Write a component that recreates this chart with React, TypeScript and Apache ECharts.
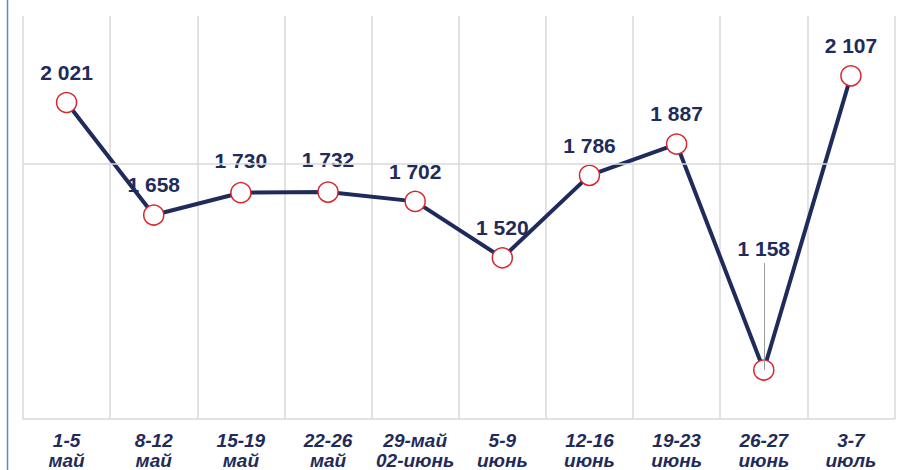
import React, { useEffect, useRef } from "react";
import * as echarts from "echarts";

const categories = [
  "1-5\nмай",
  "8-12\nмай",
  "15-19\nмай",
  "22-26\nмай",
  "29-май\n02-июнь",
  "5-9\nиюнь",
  "12-16\nиюнь",
  "19-23\nиюнь",
  "26-27\nиюнь",
  "3-7\nиюль",
];
const values = [2021, 1658, 1730, 1732, 1702, 1520, 1786, 1887, 1158, 2107];
const yMin = 1000;
const yMax = 2300;
const refLineValue = 1822;
const leaderIndex = 8;
const leaderTopValue = 1503;
const maskedLabelIdx = [2, 3];

const NAVY = "#1F2B5B";
const RED = "#D9262E";
const GRID = "#D9D9D9";

const fmt = (v: number) => {
  const s = String(Math.round(v));
  return s.replace(/\B(?=(\d{3})+(?!\d))/g, " ");
};

export default function App() {
  const ref = useRef<HTMLDivElement>(null);
  useEffect(() => {
    if (!ref.current) return;
    const chart = echarts.init(ref.current, null, { renderer: "svg" });
    chart.setOption({
      animation: false,
      backgroundColor: "#ffffff",
      grid: {
        left: 23,
        right: 4.5,
        top: 16,
        bottom: 51,
        containLabel: false,
        outerBoundsMode: "none",
      },
      xAxis: {
        type: "category",
        data: categories,
        boundaryGap: true,
        axisLine: { show: true, lineStyle: { color: GRID, width: 1.5 } },
        axisTick: { show: false },
        splitLine: { show: true, lineStyle: { color: GRID, width: 1.5 } },
        axisLabel: {
          interval: 0,
          margin: 11,
          color: NAVY,
          fontFamily: "Liberation Sans, Arial, sans-serif",
          fontWeight: "bold",
          fontStyle: "italic",
          fontSize: 19,
          lineHeight: 20,
        },
      },
      yAxis: {
        type: "value",
        min: yMin,
        max: yMax,
        show: false,
        splitLine: { show: false },
      },
      graphic: [
        {
          type: "line",
          shape: { x1: 7.5, y1: 0, x2: 7.5, y2: 470 },
          style: { stroke: "#4A8FD6", lineWidth: 1.5 },
          silent: true,
        },
      ],
      series: [
        {
          type: "line",
          z: 0,
          silent: true,
          data: values,
          symbol: "none",
          lineStyle: { opacity: 0 },
          label: { show: false },
          markLine: {
            silent: true,
            symbol: "none",
            label: { show: false },
            data: [
              [
                { yAxis: refLineValue, x: 23 },
                { yAxis: refLineValue, x: 894.5 },
              ],
              [
                {
                  coord: [leaderIndex, values[leaderIndex]],
                  lineStyle: { color: "#9A9A9A", width: 1, type: "solid" },
                },
                { coord: [leaderIndex, leaderTopValue] },
              ],
            ],
            lineStyle: { color: GRID, width: 1.5, type: "solid" },
          },
        },
        {
          type: "line",
          z: 3,
          data: values.map((v, i) => {
            if (i === leaderIndex) return { value: v, label: { offset: [0, -91] } };
            if (maskedLabelIdx.includes(i))
              return {
                value: v,
                label: {
                  backgroundColor: "#ffffff",
                  padding: [2, 4],
                  textBorderColor: "#ffffff",
                  textBorderWidth: 3,
                },
              };
            return v;
          }),
          symbol: "circle",
          symbolSize: 20,
          showAllSymbol: true,
          itemStyle: { color: "#ffffff", borderColor: RED, borderWidth: 1.5 },
          lineStyle: { color: NAVY, width: 4 },
          label: {
            show: true,
            position: "top",
            distance: 9,
            color: NAVY,
            fontFamily: "Liberation Sans, Arial, sans-serif",
            fontWeight: "bold",
            fontSize: 21,
            formatter: (p: any) => fmt(p.value),
          },
        },
      ],
    });
    return () => chart.dispose();
  }, []);
  return (
    <div
      ref={ref}
      style={{ position: "absolute", left: 0, top: 0, width: 899, height: 470 }}
    />
  );
}
